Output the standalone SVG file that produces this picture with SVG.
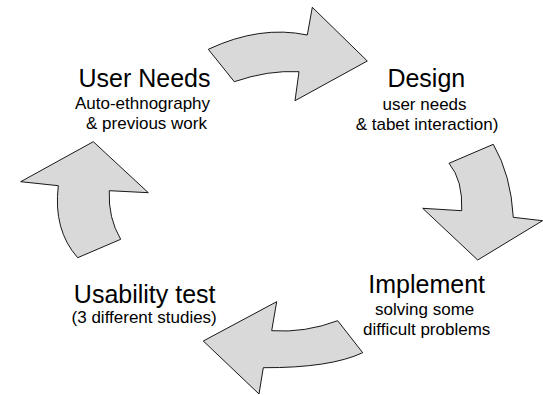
<svg xmlns="http://www.w3.org/2000/svg" width="543" height="395" viewBox="0 0 543 395">
<style>
.arrow{fill:#d9d9d9;stroke:#000;stroke-width:0.9;stroke-linejoin:miter}
.title{font-family:"Liberation Sans",Arial,sans-serif;font-size:25px;fill:#000;text-anchor:middle}
.sub{font-family:"Liberation Sans",Arial,sans-serif;font-size:17px;fill:#000;text-anchor:middle}
</style>
<rect width="543" height="395" fill="#fff"/>
<g id="connectors">
<path class="arrow" d="M 208.3 49.3 Q 260 25 307.3 35 L 312.3 7.3 L 367.3 61 L 295 100.7 L 299 71.7 Q 268 70 234.3 81.7 Z"/>
<path class="arrow" d="M 449 163.3 L 493.3 144.3 Q 511 175 513.3 217.3 L 542.5 220.7 L 477.7 260 L 422.7 208.3 L 461.7 210.7 Q 463 180 449 163.3 Z"/>
<path class="arrow" d="M 337.7 320.7 Q 305 333 271.7 330.7 L 276.7 301.7 L 203.3 341 L 259 394 L 263.3 367.7 Q 330 368 362.7 352.7 Z"/>
<path class="arrow" d="M 77.7 257.7 Q 53 230 58.3 185.7 L 20.7 181.7 L 93.3 141.7 L 148.3 192.7 L 109.3 190.7 Q 108 218 120.7 239.3 Z"/>
</g>
<g id="user-needs">
<text class="title" x="144.5" y="87">User Needs</text>
<text class="sub" x="142.5" y="109">Auto-ethnography</text>
<text class="sub" x="146.5" y="129">&amp; previous work</text>
</g>
<g id="design">
<text class="title" x="426.3" y="86.5">Design</text>
<text class="sub" x="424.5" y="110">user needs</text>
<text class="sub" x="427" y="130">&amp; tabet interaction)</text>
</g>
<g id="implement">
<text class="title" x="426.7" y="293.3">Implement</text>
<text class="sub" x="424.7" y="315">solving some</text>
<text class="sub" x="426.7" y="335">difficult problems</text>
</g>
<g id="usability-test">
<text class="title" x="144.7" y="303.3">Usability test</text>
<text class="sub" x="144.2" y="323.3">(3 different studies)</text>
</g>
</svg>
